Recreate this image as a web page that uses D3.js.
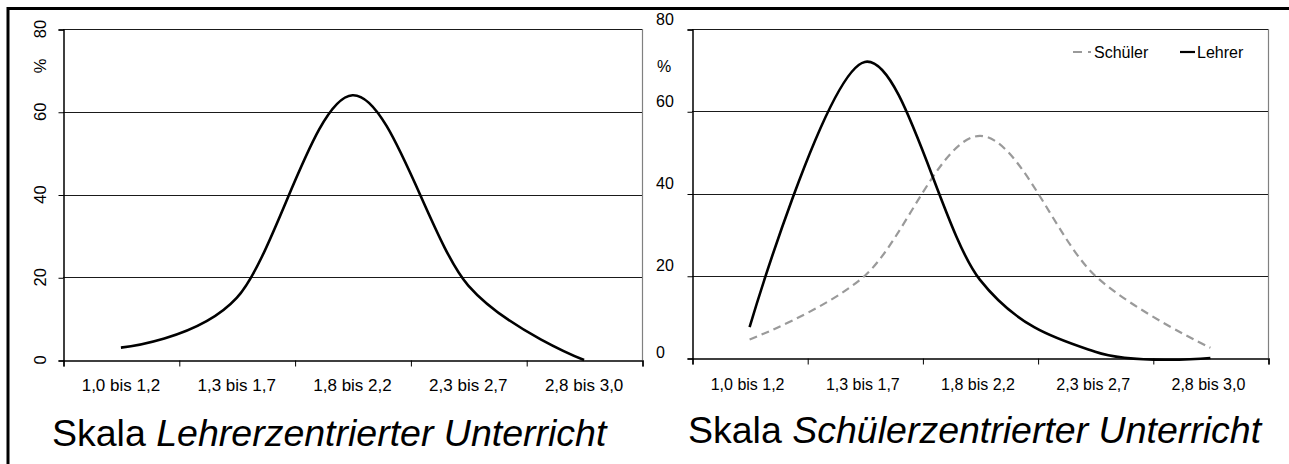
<!DOCTYPE html>
<html>
<head>
<meta charset="utf-8">
<script src="https://cdn.jsdelivr.net/npm/d3@7"></script>
<style>
  html, body { margin: 0; padding: 0; background: #fff; }
  svg { display: block; font-family: "Liberation Sans", Arial, sans-serif; }
</style>
</head>
<body>
<svg id="chart" width="1289" height="464"></svg>
<script>
// Score bands on the x axis
const categories = ["1,0 bis 1,2", "1,3 bis 1,7", "1,8 bis 2,2", "2,3 bis 2,7", "2,8 bis 3,0"];
// Percent per band, scale "Lehrerzentrierter Unterricht"
const lehrerzentriert = [3, 15, 64, 18, 0];
// Percent per band, scale "Schülerzentrierter Unterricht"
const schuelerSchueler = [4.5, 20, 54, 20, 2.5];
const schuelerLehrer = [7.5, 72, 19, 1.5, 0];
// Y axis ticks
const yTicks = [0, 20, 40, 60, 80];
const legendLabels = ["Schüler", "Lehrer"];
const titles = [["Skala ", "Lehrerzentrierter Unterricht"], ["Skala ", "Schülerzentrierter Unterricht"]];

const svg = d3.select("#chart");

// outer frame (only top and left edges fall inside the page)
svg.append("path")
  .attr("d", "M8,470 V8.5 H1295")
  .attr("fill", "none").attr("stroke", "#000").attr("stroke-width", 3);

const smooth = d3.curveCardinal.tension(0);

function panel(opts) {
  const { x0, x1, yTop, yBottom } = opts;
  const g = svg.append("g");
  const x = d3.scaleBand().domain(categories).range([x0, x1]).padding(0);
  const xb = d3.scaleLinear().domain([0, categories.length]).range([x0, x1]);
  const y = d3.scaleLinear().domain([0, 80]).range([yBottom, yTop]);
  const cx = c => x(c) + x.bandwidth() / 2;

  // plot-area right border
  g.append("line")
    .attr("x1", x1 + 0.5).attr("x2", x1 + 0.5)
    .attr("y1", yTop).attr("y2", yBottom)
    .attr("stroke", "#808080").attr("stroke-width", 1.2);

  // gridlines
  g.append("g").selectAll("line").data(yTicks.filter(v => v > 0)).join("line")
    .attr("x1", x0).attr("x2", x1)
    .attr("y1", d => Math.round(y(d)) + 0.5).attr("y2", d => Math.round(y(d)) + 0.5)
    .attr("stroke", "#1a1a1a").attr("stroke-width", 1);

  // y axis with outward ticks
  const ya = g.append("g").attr("transform", `translate(${x0 + 0.5},0.5)`)
    .call(d3.axisLeft(y).tickValues(yTicks).tickSize(5).tickFormat(""));
  ya.select(".domain").attr("stroke", "#000").attr("stroke-width", 1.5);
  ya.selectAll(".tick line").attr("stroke", "#000");

  // x axis with ticks on band boundaries
  const xa = g.append("g").attr("transform", `translate(0.5,${yBottom + 0.5})`)
    .call(d3.axisBottom(xb).ticks(categories.length).tickSize(6).tickFormat("").tickSizeOuter(6));
  xa.select(".domain").attr("stroke", "#000").attr("stroke-width", 1.5);
  xa.selectAll(".tick line").attr("stroke", "#000");

  // category labels
  const xl = g.append("g").attr("transform", `translate(${opts.labelDx || 0},${opts.labelBaseline})`)
    .call(d3.axisBottom(x).tickSize(0).tickPadding(0));
  xl.select(".domain").remove();
  xl.selectAll("text")
    .attr("y", 0).attr("dy", null)
    .attr("font-family", "Liberation Sans, Arial, sans-serif")
    .attr("font-size", opts.labelSize).attr("fill", "#000");

  // title
  const t = g.append("text")
    .attr("x", opts.titleX).attr("y", opts.titleY)
    .attr("font-size", 37.5).attr("fill", "#000");
  t.append("tspan").text(opts.title[0]);
  t.append("tspan").attr("font-style", "italic").text(opts.title[1]);

  return { g, x, y, cx };
}

// ---------- left panel ----------
const L = panel({ x0: 63, x1: 642, yTop: 29, yBottom: 360, labelBaseline: 391, labelSize: 17,
  titleX: 52, titleY: 446, title: titles[0] });

// rotated y tick labels
L.g.append("g").selectAll("text").data(yTicks).join("text")
  .attr("transform", d => `translate(40,${L.y(d)}) rotate(-90)`)
  .attr("text-anchor", "middle").attr("dominant-baseline", "central")
  .attr("font-size", 16.5).text(d => d);
L.g.append("text")
  .attr("transform", "translate(40,66) rotate(-90)")
  .attr("text-anchor", "middle").attr("dominant-baseline", "central")
  .attr("font-size", 16.5).text("%");

L.g.append("path")
  .datum(categories.map((c, i) => [L.cx(c), L.y(lehrerzentriert[i])]))
  .attr("d", d3.line().curve(smooth))
  .attr("fill", "none").attr("stroke", "#000").attr("stroke-width", 2.6)
  .attr("stroke-linejoin", "round");

// ---------- right panel ----------
const R = panel({ x0: 692, x1: 1268, yTop: 29, yBottom: 358, labelBaseline: 390, labelSize: 16, labelDx: -2,
  titleX: 688, titleY: 443, title: titles[1] });

svg.append("defs").append("clipPath").attr("id", "rlab")
  .append("rect").attr("x", 640).attr("y", 13).attr("width", 50).attr("height", 360);

const rl = R.g.append("g").attr("clip-path", "url(#rlab)");
rl.selectAll("text.tick").data(yTicks).join("text")
  .attr("class", "tick")
  .attr("x", 656).attr("y", d => R.y(d) - (d === 0 ? 6 : 10))
  .attr("dominant-baseline", "central")
  .attr("font-size", 16).text(d => d);
rl.append("text")
  .attr("x", 657).attr("y", 66).attr("dominant-baseline", "central")
  .attr("font-size", 16).text("%");

R.g.append("path")
  .datum(categories.map((c, i) => [R.cx(c), R.y(schuelerSchueler[i])]))
  .attr("d", d3.line().curve(smooth))
  .attr("fill", "none").attr("stroke", "#9a9a9a").attr("stroke-width", 2.2)
  .attr("stroke-dasharray", "8,5");

R.g.append("path")
  .datum(categories.map((c, i) => [R.cx(c), R.y(schuelerLehrer[i])]))
  .attr("d", d3.line().curve(smooth))
  .attr("fill", "none").attr("stroke", "#000").attr("stroke-width", 2.6)
  .attr("stroke-linejoin", "round");

// legend
const lg = R.g.append("g");
lg.append("line").attr("x1", 1073).attr("x2", 1091).attr("y1", 52).attr("y2", 52)
  .attr("stroke", "#9a9a9a").attr("stroke-width", 2).attr("stroke-dasharray", "9,6");
lg.append("text").attr("x", 1094).attr("y", 52).attr("dominant-baseline", "central")
  .attr("font-size", 16).text(legendLabels[0]);
lg.append("line").attr("x1", 1180).attr("x2", 1195).attr("y1", 52).attr("y2", 52)
  .attr("stroke", "#000").attr("stroke-width", 2.2);
lg.append("text").attr("x", 1197).attr("y", 52).attr("dominant-baseline", "central")
  .attr("font-size", 16).text(legendLabels[1]);
</script>
</body>
</html>
